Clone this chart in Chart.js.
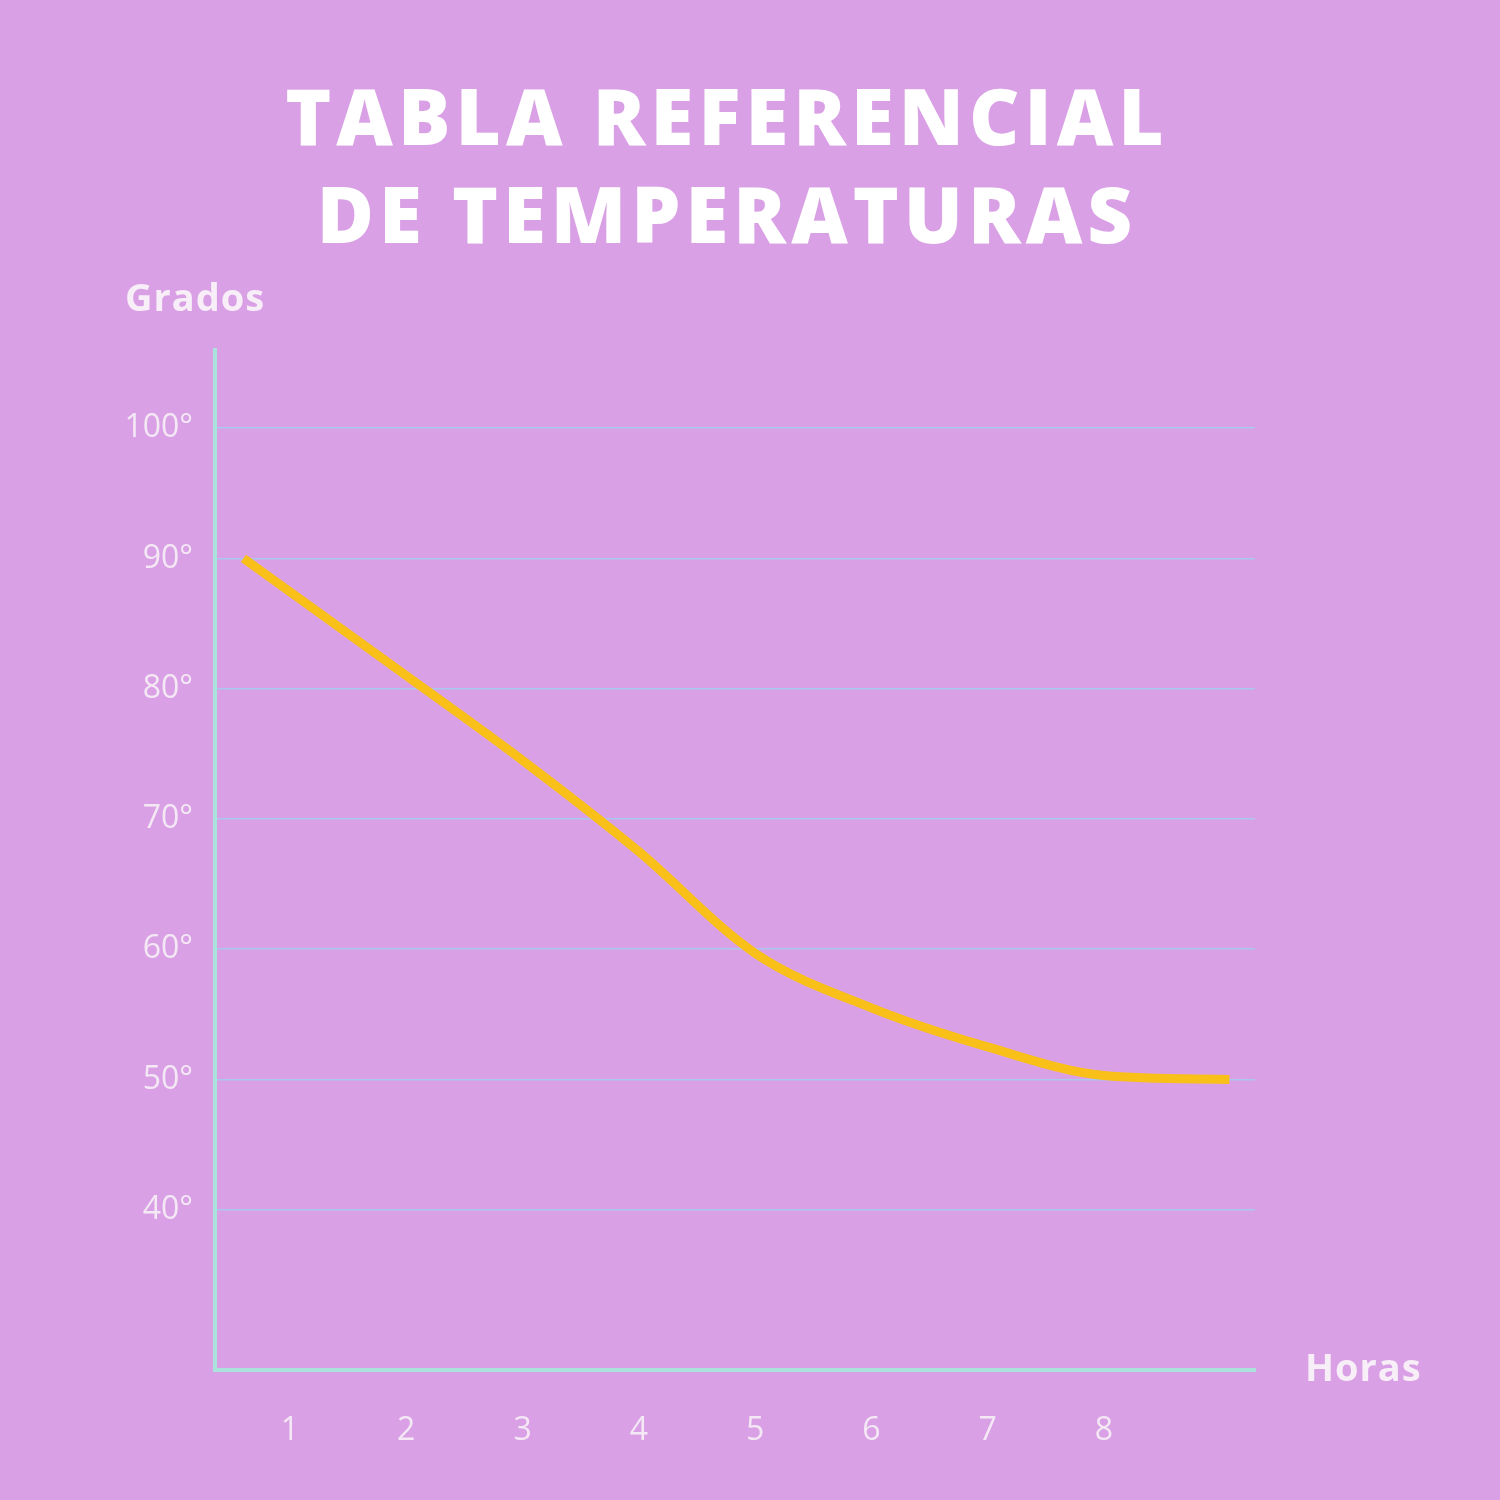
<!DOCTYPE html>
<html>
<head>
<meta charset="utf-8">
<script src="https://cdn.jsdelivr.net/npm/chart.js@4"></script>
<style>
  body { margin: 0; background: #d9a0e5; font-family: "Open Sans", sans-serif; }
  #wrap { position: relative; width: 1500px; height: 1500px; }
  canvas { position: absolute; left: 0; top: 0; }
  .title { position: absolute; left: 0; width: 1454px; top: 66px; text-align: center;
    color: #fff; font-weight: 800; font-size: 78px; line-height: 98px; letter-spacing: 5px; }
  .lbl { position: absolute; color: #f7eef8; font-weight: 700; font-size: 38px; letter-spacing: 1px; }
</style>
</head>
<body>
<div id="wrap">
  <canvas id="chart" width="1500" height="1500"></canvas>
  <div class="title">TABLA REFERENCIAL<br>DE TEMPERATURAS</div>
  <div class="lbl" style="left:125px; top:270px;">Grados</div>
  <div class="lbl" style="left:1305px; top:1340px;">Horas</div>
</div>
<script>
// Data
const hours = [0.6, 2, 3, 4, 5, 6, 7, 8, 9.08];
const degrees = [90, 81, 74.5, 67.5, 59.7, 55.5, 52.5, 50.3, 50];
const yTicks = [40, 50, 60, 70, 80, 90, 100];
const xTicks = [1, 2, 3, 4, 5, 6, 7, 8];

const tickFont = { family: "Open Sans", size: 32 };
const axisColor = "#a9e3dc";

new Chart(document.getElementById("chart"), {
  type: "scatter",
  data: {
    datasets: [{
      data: hours.map((h, i) => ({ x: h, y: degrees[i] })),
      showLine: true,
      borderColor: "#f9c01a",
      borderWidth: 9,
      pointRadius: 0,
      cubicInterpolationMode: "monotone"
    }]
  },
  options: {
    responsive: false,
    animation: false,
    layout: { padding: { top: 350, right: 245, left: 0, bottom: 0 } },
    plugins: { legend: { display: false }, tooltip: { enabled: false } },
    scales: {
      x: {
        min: 0.355, max: 9.3,
        afterBuildTicks: s => { s.ticks = xTicks.map(v => ({ value: v })); },
        afterFit: s => { s.height = 130; },
        grid: { display: false },
        border: { color: axisColor, width: 4 },
        ticks: { color: "#f4e8f5", font: tickFont, padding: 34 }
      },
      y: {
        min: 27.7, max: 106,
        afterBuildTicks: s => { s.ticks = yTicks.map(v => ({ value: v })); },
        afterFit: s => { s.width = 215; },
        grid: { color: "#a9c8f0", lineWidth: 1.5, drawTicks: false },
        border: { color: axisColor, width: 4 },
        ticks: { color: "#f4e8f5", font: tickFont, padding: 22, callback: v => v + "°" }
      }
    }
  }
});
</script>
</body>
</html>
